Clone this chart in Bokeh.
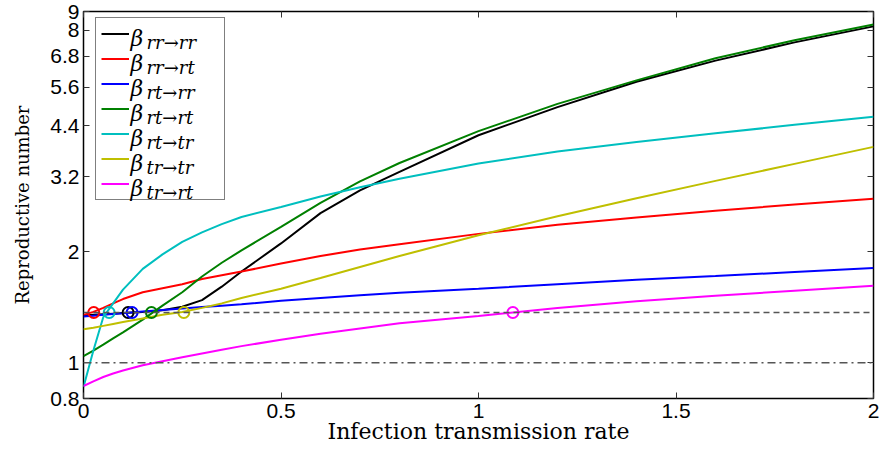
from bokeh.plotting import figure
from bokeh.models import (Range1d, LinearAxis, LogAxis, FixedTicker, CustomJSTickFormatter,
                          Span, Legend, LegendItem, Label)
from bokeh.core.properties import value
from bokeh.embed import file_html
from bokeh.resources import INLINE

# ---- data ----
rate = [0, 0.025, 0.05, 0.075, 0.1, 0.15, 0.2, 0.25, 0.3, 0.35, 0.4, 0.5, 0.6, 0.7, 0.8,
        1.0, 1.2, 1.4, 1.6, 1.8, 2.0]
beta_rr_rr = [1.345, 1.35, 1.355, 1.36, 1.365, 1.375, 1.39, 1.42, 1.48, 1.61, 1.77, 2.11,
              2.55, 2.94, 3.30, 4.15, 4.95, 5.80, 6.62, 7.42, 8.20]
beta_rr_rt = [1.35, 1.375, 1.41, 1.45, 1.49, 1.555, 1.595, 1.635, 1.69, 1.73, 1.77, 1.86,
              1.95, 2.03, 2.10, 2.24, 2.37, 2.48, 2.59, 2.69, 2.79]
beta_rt_rr = [1.337, 1.343, 1.35, 1.357, 1.363, 1.378, 1.392, 1.405, 1.418, 1.43, 1.442,
              1.475, 1.50, 1.525, 1.55, 1.59, 1.635, 1.68, 1.72, 1.765, 1.81]
beta_rt_rt = [1.043, 1.08, 1.12, 1.165, 1.21, 1.31, 1.43, 1.555, 1.716, 1.87, 2.02, 2.34,
              2.72, 3.11, 3.49, 4.26, 5.05, 5.85, 6.72, 7.52, 8.30]
beta_rt_tr = [0.86, 1.08, 1.33, 1.45, 1.58, 1.80, 1.97, 2.13, 2.26, 2.38, 2.49, 2.65,
              2.83, 3.00, 3.16, 3.48, 3.75, 3.98, 4.20, 4.43, 4.66]
beta_tr_tr = [1.233, 1.245, 1.26, 1.275, 1.29, 1.32, 1.35, 1.375, 1.41, 1.45, 1.50, 1.59,
              1.70, 1.82, 1.95, 2.22, 2.50, 2.80, 3.12, 3.47, 3.86]
beta_tr_rt = [0.865, 0.89, 0.915, 0.935, 0.953, 0.985, 1.01, 1.035, 1.06, 1.085, 1.11, 1.155,
              1.20, 1.24, 1.28, 1.34, 1.41, 1.47, 1.52, 1.57, 1.62]

series = [beta_rr_rr, beta_rr_rt, beta_rt_rr, beta_rt_rt, beta_rt_tr, beta_tr_tr, beta_tr_rt]
subscripts = ["rr\u2192rr", "rr\u2192rt", "rt\u2192rr", "rt\u2192rt", "rt\u2192tr", "tr\u2192tr", "tr\u2192rt"]
colors = ["#000000", "#ff0000", "#0000ff", "#008000", "#00bfbf", "#bfbf00", "#ff00ff"]

threshold = 1.37
unity = 1.0
crossing_rate = [0.113, 0.026, 0.123, 0.172, 0.065, 0.254, 1.087]

x_ticks = [0, 0.5, 1, 1.5, 2]
y_ticks = [0.8, 1, 2, 3.2, 4.4, 5.6, 6.8, 8, 9]

# ---- figure ----
p = figure(width=883, height=450, output_backend="svg", toolbar_location=None,
           x_range=Range1d(0, 2), y_range=Range1d(0.8, 9), y_axis_type="log",
           min_border_left=83, min_border_right=10, min_border_top=11, min_border_bottom=52)
p.grid.visible = False
p.outline_line_color = "black"
p.outline_line_width = 1.5
p.background_fill_color = "white"
p.border_fill_color = "white"

fmt = CustomJSTickFormatter(code="return String(Math.round(tick*10)/10)")
blank = CustomJSTickFormatter(code="return ''")


def style_axis(ax, ticks, show):
    ax.ticker = FixedTicker(ticks=ticks)
    ax.major_tick_in = 6
    ax.major_tick_out = 0
    ax.minor_tick_line_color = None
    ax.axis_line_color = None
    ax.major_tick_line_color = "#333333"
    ax.major_tick_line_width = 1
    if show:
        ax.formatter = fmt
        ax.major_label_text_font = "Liberation Sans"
        ax.major_label_text_font_size = "21px"
        ax.major_label_text_color = "black"
        ax.major_label_standoff = 4
        ax.axis_label_text_font = "DejaVu Serif"
        ax.axis_label_text_font_style = "normal"
        ax.axis_label_text_color = "black"
    else:
        ax.formatter = blank
        ax.major_label_text_font_size = "0px"
        ax.major_label_standoff = 0


style_axis(p.xaxis[0], x_ticks, True)
style_axis(p.yaxis[0], y_ticks, True)
p.xaxis[0].axis_label = "Infection transmission rate"
p.xaxis[0].axis_label_text_font_size = "22px"
p.xaxis[0].axis_label_standoff = -2
p.xaxis[0].major_label_standoff = 5
p.yaxis[0].axis_label = "Reproductive number"
p.yaxis[0].axis_label_text_font_size = "18px"
p.yaxis[0].axis_label_standoff = 14

top_ax = LinearAxis()
style_axis(top_ax, x_ticks, False)
p.add_layout(top_ax, "above")
right_ax = LogAxis()
style_axis(right_ax, y_ticks, False)
p.add_layout(right_ax, "right")

# reference lines
p.add_layout(Span(location=unity, dimension="width", line_color="#555555",
                  line_width=1.5, line_dash="8 4 2 4"))
p.add_layout(Span(location=threshold, dimension="width", line_color="#555555",
                  line_width=1.5, line_dash="6 4"))

renderers = []
for ys, c in zip(series, colors):
    r = p.line(rate, ys, line_color=c, line_width=2)
    renderers.append(r)

p.scatter(crossing_rate, [threshold] * len(crossing_rate), marker="circle", size=11,
          fill_color=None, line_color=colors, line_width=2)

# legend (box + line samples); math labels drawn as text on top
items = [LegendItem(label=value(" "), renderers=[r]) for r in renderers]
legend = Legend(items=items, location=(12, 198), padding=5, spacing=4,
                glyph_width=28, glyph_height=21, label_height=21, label_width=86,
                label_standoff=4, border_line_color="black", border_line_width=1,
                background_fill_alpha=0.0, label_text_font_size="13px", margin=0)
p.add_layout(legend, "center")

for i, sub in enumerate(subscripts):
    p.add_layout(Label(x=47, y=360 - 25 * i, x_units="screen", y_units="screen",
                       text="\u03b2", text_font="DejaVu Serif", text_font_style="italic",
                       text_font_size="22px", text_baseline="alphabetic", text_color="black"))
    p.add_layout(Label(x=63, y=356 - 25 * i, x_units="screen", y_units="screen",
                       text=sub, text_font="DejaVu Serif", text_font_style="italic",
                       text_font_size="18px", text_baseline="alphabetic", text_color="black"))

open("out.html", "w").write(file_html(p, INLINE))
